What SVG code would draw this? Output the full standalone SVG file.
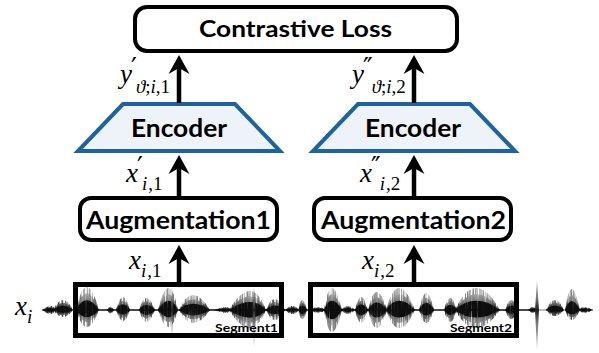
<svg xmlns="http://www.w3.org/2000/svg" width="599" height="353" viewBox="0 0 599 353">
  <style>
    .box { fill: #ffffff; stroke: #000000; stroke-width: 4; }
    .enc { fill: #eef2f9; stroke: #1b64a0; stroke-width: 4; stroke-linejoin: miter; }
    .seg { fill: none; stroke: #000000; stroke-width: 5; }
    .lbl { font-family: Lato, "Open Sans", "Liberation Sans", sans-serif; font-weight: 700; fill: #000000; text-anchor: middle; }
    .small { font-family: Lato, "Open Sans", "Liberation Sans", sans-serif; font-weight: 700; font-size: 12px; fill: #000000; text-anchor: end; }
    .math { font-family: "Liberation Serif", "DejaVu Serif", serif; font-size: 27px; fill: #000000; }
    .it { font-style: italic; }
    .sub { font-size: 19px; }
    .pr { font-family: "DejaVu Sans", sans-serif; font-size: 26px; font-style: normal; }
    .arrow { fill: none; stroke: #000000; stroke-width: 4.5; marker-end: url(#head); }
  </style>
  <defs>
    <marker id="head" markerUnits="userSpaceOnUse" viewBox="-20 -11 21 22" refX="-10" refY="0" markerWidth="21" markerHeight="22" orient="auto">
      <path d="M0,0 L-19,-10.5 L-13,0 L-19,10.5 Z" fill="#000000"/>
    </marker>
    <linearGradient id="wgrad" gradientUnits="userSpaceOnUse" x1="0" y1="280" x2="0" y2="350">
      <stop offset="0" stop-color="#bdbdbd"/>
      <stop offset="0.25" stop-color="#7a7a7a"/>
      <stop offset="0.4286" stop-color="#1e1e1e"/>
      <stop offset="0.62" stop-color="#7a7a7a"/>
      <stop offset="1" stop-color="#bdbdbd"/>
    </linearGradient>
    <!-- vertical streak masks that break the envelopes into jagged columns -->
    <filter id="streakA" x="30" y="260" width="570" height="105" filterUnits="userSpaceOnUse">
      <feTurbulence type="fractalNoise" baseFrequency="0.55 0.01" numOctaves="2" seed="3" result="n"/>
      <feColorMatrix in="n" type="matrix" values="0 0 0 0 0  0 0 0 0 0  0 0 0 0 0  3.4 0 0 0 -1.2" result="a"/>
      <feComposite in="SourceGraphic" in2="a" operator="in"/>
    </filter>
    <filter id="streakB" x="30" y="260" width="570" height="105" filterUnits="userSpaceOnUse">
      <feTurbulence type="fractalNoise" baseFrequency="0.6 0.01" numOctaves="2" seed="11" result="n"/>
      <feColorMatrix in="n" type="matrix" values="0 0 0 0 0  0 0 0 0 0  0 0 0 0 0  3.0 0 0 0 -0.6" result="a"/>
      <feComposite in="SourceGraphic" in2="a" operator="in"/>
    </filter>
    <filter id="streakC" x="30" y="260" width="570" height="105" filterUnits="userSpaceOnUse">
      <feTurbulence type="fractalNoise" baseFrequency="0.7 0.01" numOctaves="2" seed="29" result="n"/>
      <feColorMatrix in="n" type="matrix" values="0 0 0 0 0  0 0 0 0 0  0 0 0 0 0  3.0 0 0 0 -0.4" result="a"/>
      <feComposite in="SourceGraphic" in2="a" operator="in"/>
    </filter>
    <!-- burst envelopes of the speech signal, centred on y = 310 -->
    <g id="env">
      <path d="M42,310 Q52,302 56,310 Q52,318 42,310 Z"/>
      <path d="M53,310 Q63,290 73,310 Q63,324 53,310 Z"/>
      <path d="M76,310 Q86,264 99,310 Q86,344 76,310 Z"/>
      <path d="M107,310 Q110.5,303 114,310 Q110.5,317 107,310 Z"/>
      <path d="M116,310 Q123,284 130,310 Q123,332 116,310 Z"/>
      <path d="M139,310 Q146,286 155,310 Q146,334 139,310 Z"/>
      <path d="M158,310 Q169,266 178,310 Q169,344 158,310 Z"/>
      <path d="M179,310 Q192,280 210,310 Q192,336 179,310 Z"/>
      <path d="M214,310 Q228,304 232,310 Q228,316 214,310 Z"/>
      <path d="M229,310 Q252,272 266,310 Q252,346 229,310 Z"/>
      <path d="M266,310 Q274,288 285,310 Q274,330 266,310 Z"/>
      <path d="M285,310 Q292,302 300,310 Q292,318 285,310 Z"/>
      <path d="M298,310 Q302,290 307,310 Q302,328 298,310 Z"/>
      <path d="M310,310 Q318,304 326,310 Q318,316 310,310 Z"/>
      <path d="M324,310 Q331,266 342,310 Q331,354 324,310 Z"/>
      <path d="M341,310 Q348,302 355,310 Q348,318 341,310 Z"/>
      <path d="M355,310 Q361,284 368,310 Q361,336 355,310 Z"/>
      <path d="M368,310 Q376,274 387,310 Q376,346 368,310 Z"/>
      <path d="M386,310 Q398,266 415,310 Q398,346 386,310 Z"/>
      <path d="M419,310 Q426,276 434,310 Q426,336 419,310 Z"/>
      <path d="M444,310 Q450,286 457,310 Q450,334 444,310 Z"/>
      <path d="M455,310 Q475,266 500,310 Q475,346 455,310 Z"/>
      <path d="M505,310 Q511,290 518,310 Q511,328 505,310 Z"/>
      <path d="M528,310 Q533,304 537,310 Q533,316 528,310 Z"/>
      <path d="M546,310 Q555,290 564,310 Q555,322 546,310 Z"/>
      <path d="M565,310 Q571,268 580,310 Q571,330 565,310 Z"/>
      <path d="M578,310 Q583,304 593,310 Q583,316 578,310 Z"/>
    </g>
  </defs>

  <!-- speech waveform x_i -->
  <g id="waveform">
    <line x1="42" y1="310" x2="593" y2="310" stroke="#777777" stroke-width="1.2"/>
    <line x1="95" y1="310" x2="535" y2="310" stroke="#222222" stroke-width="1.4"/>
    <use href="#env" fill="url(#wgrad)" filter="url(#streakA)"/>
    <use href="#env" fill="url(#wgrad)" filter="url(#streakB)" transform="translate(0,310) scale(1,0.72) translate(0,-310)"/>
    <use href="#env" fill="#0a0a0a" filter="url(#streakC)" transform="translate(0,310) scale(1,0.42) translate(0,-310)"/>
    <path fill="url(#wgrad)" d="M171,310 L172,286 L173,310 L172,337 Z"/>
    <path fill="url(#wgrad)" d="M252.5,310 L254,287 L255.5,310 L254,347 Z"/>
    <path fill="url(#wgrad)" d="M535,310 L537,280 L539,310 L537,350 Z"/>
    <text class="math it" x="15" y="315">x<tspan class="sub" dy="8">i</tspan></text>
  </g>

  <!-- segment windows -->
  <g id="segment1">
    <rect class="seg" x="75.5" y="284.5" width="206" height="51"/>
    <text class="small" x="278" y="332" textLength="63" lengthAdjust="spacingAndGlyphs">Segment1</text>
  </g>
  <g id="segment2">
    <rect class="seg" x="310.5" y="284.5" width="206" height="51"/>
    <text class="small" x="512" y="332" textLength="62" lengthAdjust="spacingAndGlyphs">Segment2</text>
  </g>

  <!-- augmentation blocks -->
  <g id="augmentation1">
    <rect class="box" x="80" y="198" width="197" height="42" rx="11"/>
    <text class="lbl" x="178.5" y="229" font-size="24px" textLength="185" lengthAdjust="spacingAndGlyphs">Augmentation1</text>
  </g>
  <g id="augmentation2">
    <rect class="box" x="314" y="198" width="197" height="42" rx="11"/>
    <text class="lbl" x="413.5" y="229" font-size="24px" textLength="185" lengthAdjust="spacingAndGlyphs">Augmentation2</text>
  </g>

  <!-- encoders -->
  <g id="encoder1">
    <polygon class="enc" points="123,104 235,104 280,151 78,151"/>
    <text class="lbl" x="179" y="137" font-size="24px" textLength="96" lengthAdjust="spacingAndGlyphs">Encoder</text>
  </g>
  <g id="encoder2">
    <polygon class="enc" points="358,104 470,104 515,151 313,151"/>
    <text class="lbl" x="413" y="137" font-size="24px" textLength="96" lengthAdjust="spacingAndGlyphs">Encoder</text>
  </g>

  <!-- loss -->
  <g id="contrastive-loss">
    <rect class="box" x="135" y="7" width="322" height="44" rx="12"/>
    <text class="lbl" x="295.5" y="37" font-size="22px" textLength="193" lengthAdjust="spacingAndGlyphs">Contrastive Loss</text>
  </g>

  <!-- connectors -->
  <g id="connectors">
    <path class="arrow" d="M179,283 V255"/>
    <path class="arrow" d="M414,283 V255"/>
    <path class="arrow" d="M179,197 V165"/>
    <path class="arrow" d="M414,197 V165"/>
    <path class="arrow" d="M179,103 V65"/>
    <path class="arrow" d="M414,103 V65"/>
  </g>

  <!-- connector labels -->
  <g id="labels">
    <text class="math" x="129" y="269"><tspan class="it">x</tspan><tspan class="sub it" dy="8">i</tspan><tspan class="sub" dx="1">,1</tspan></text>
    <text class="math" x="362" y="269"><tspan class="it">x</tspan><tspan class="sub it" dy="8">i</tspan><tspan class="sub" dx="1">,2</tspan></text>

    <text class="math" x="126" y="182"><tspan class="it">x</tspan><tspan class="pr" dx="-1" dy="-6">′</tspan><tspan class="sub it" dx="-1" dy="14">i</tspan><tspan class="sub" dx="1">,1</tspan></text>
    <text class="math" x="360" y="182"><tspan class="it">x</tspan><tspan class="pr" dx="-1" dy="-6">″</tspan><tspan class="sub it" dx="-1" dy="14">i</tspan><tspan class="sub" dx="1">,2</tspan></text>

    <text class="math" x="120" y="83"><tspan class="it">y</tspan><tspan class="pr" dx="-1" dy="-6">′</tspan><tspan class="sub it" dx="-1" dy="16">ϑ</tspan><tspan class="sub">;</tspan><tspan class="sub it">i</tspan><tspan class="sub">,1</tspan></text>
    <text class="math" x="352" y="83"><tspan class="it">y</tspan><tspan class="pr" dx="-1" dy="-6">″</tspan><tspan class="sub it" dx="-1" dy="16">ϑ</tspan><tspan class="sub">;</tspan><tspan class="sub it">i</tspan><tspan class="sub">,2</tspan></text>
  </g>
</svg>
